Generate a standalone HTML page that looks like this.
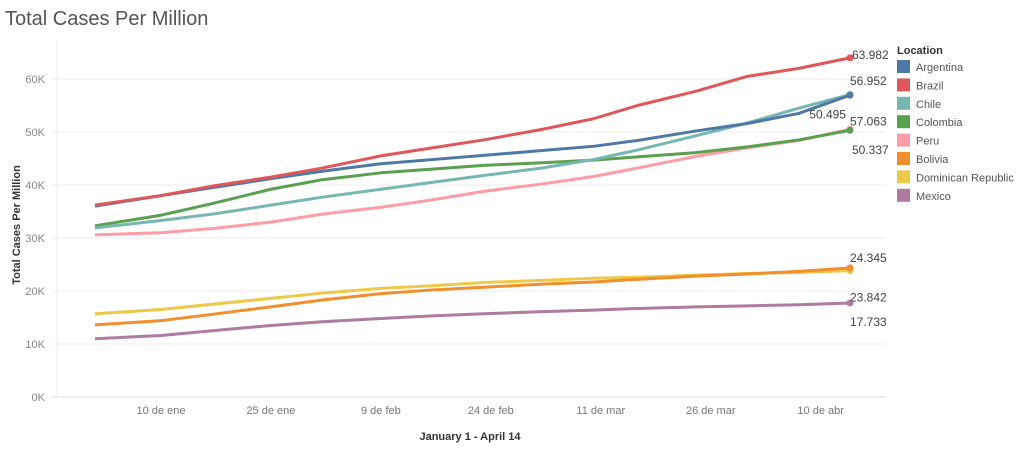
<!DOCTYPE html>
<html><head><meta charset="utf-8"><style>
body{margin:0;background:#fff;font-family:"Liberation Sans",sans-serif;}
svg text{font-family:"Liberation Sans",sans-serif;}
</style></head><body>
<svg id="chart" width="1024" height="450" xmlns="http://www.w3.org/2000/svg">
<text x="5" y="25" font-size="20" fill="#555">Total Cases Per Million</text>
<g id="grid"></g><g id="lines"></g><g id="labels"></g><g id="legend"></g>
<text transform="translate(20,225) rotate(-90)" text-anchor="middle" font-size="11" font-weight="bold" fill="#333">Total Cases Per Million</text>
<text x="470" y="440" text-anchor="middle" font-size="11" font-weight="bold" fill="#333">January 1 - April 14</text>
</svg>
<script>
const days=[0,9,16,24,31,39,46,53,61,68,74,82,89,96,103];
const seriesNames=["Argentina","Brazil","Chile","Colombia","Peru","Bolivia","Dominican Republic","Mexico"];
const colors=["#4e79a7","#e15759","#76b7b2","#59a14f","#ff9da7","#f28e2b","#edc948","#b07aa1"];
const argentina=[36,38,39.5,41.2,42.6,44,44.8,45.6,46.5,47.3,48.4,50.2,51.6,53.5,56.952];
const brazil=[36.2,38,39.8,41.5,43.2,45.5,47,48.5,50.5,52.5,55,57.7,60.5,62,63.982];
const chile=[31.9,33.3,34.5,36.2,37.7,39.2,40.5,41.8,43.2,44.8,46.6,49.3,51.7,54.5,57.063];
const colombia=[32.3,34.3,36.5,39.2,41,42.3,43,43.7,44.2,44.7,45.3,46.1,47.2,48.5,50.337];
const peru=[30.6,31,31.8,33,34.5,35.8,37.2,38.8,40.2,41.6,43.2,45.4,47,48.4,50.495];
const bolivia=[13.6,14.4,15.6,17,18.3,19.5,20.2,20.7,21.3,21.7,22.2,22.8,23.2,23.7,24.345];
const domrep=[15.7,16.5,17.5,18.6,19.6,20.5,21,21.6,22,22.4,22.6,23,23.3,23.5,23.842];
const mexico=[11,11.6,12.5,13.5,14.2,14.8,15.3,15.7,16.1,16.4,16.7,17,17.2,17.4,17.733];
const yTicks=[0,10,20,30,40,50,60];
const xTickDays=[9,24,39,54,69,84,99];
const xTickLabels=["10 de ene","25 de ene","9 de feb","24 de feb","11 de mar","26 de mar","10 de abr"];
const endLabels=["56.952","63.982","57.063","50.337","50.495","24.345","23.842","17.733"];
const labelDy=[-14,-3,27,20,-15,-10,27,19];
const labelDx=[0,2,0,2,-4,0,0,0];
const labelAnchor=["start","start","start","start","end","start","start","start"];
const allSeries=[argentina,brazil,chile,colombia,peru,bolivia,domrep,mexico];
const NS="http://www.w3.org/2000/svg";
const X=d=>95+d*7.33, Y=v=>397-v*5.3;
function mk(t,a,p){const e=document.createElementNS(NS,t);for(const k in a)e.setAttribute(k,a[k]);p.appendChild(e);return e;}
const grid=document.getElementById('grid');
mk('line',{x1:57,x2:57,y1:40,y2:397,stroke:'#eee'},grid);
yTicks.forEach(v=>{
 const l=mk('line',{x1:52,x2:886,y1:Y(v),y2:Y(v),stroke:v==0?'#ddd':'#eee'},grid);
 
 
 const t=mk('text',{x:45,y:Y(v)+4,'text-anchor':'end','font-size':11,fill:'#888'},grid);
 t.textContent=v+'K';
 
 
});
xTickDays.forEach((d,i)=>{
 const t=mk('text',{x:X(d),y:414,'text-anchor':'middle','font-size':11,fill:'#777'},grid);
 t.textContent=xTickLabels[i];
 
 
});
const lines=document.getElementById('lines'),labels=document.getElementById('labels'),legend=document.getElementById('legend');
[7,6,5,4,3,2,0,1].forEach(i=>{
 const s=allSeries[i];
 const p=mk('polyline',{points:s.map((v,j)=>X(days[j])+','+Y(v)).join(' '),fill:'none',stroke:colors[i],'stroke-width':3,'stroke-linejoin':'round'},lines);
 
 
 const last=s[s.length-1],lx=X(days[days.length-1]),ly=Y(last);
 const c=mk('circle',{cx:lx,cy:ly,r:3.5,fill:colors[i]},lines);
 
 
 const t=mk('text',{x:lx+labelDx[i],y:ly+labelDy[i]+4,'text-anchor':labelAnchor[i],'font-size':12,fill:'#444'},labels);
 t.textContent=endLabels[i];
 
 
});
const lt=mk('text',{x:897,y:54,'font-size':11,'font-weight':'bold',fill:'#333'},legend);
lt.textContent='Location';


seriesNames.forEach((n,i)=>{
 const y=60+i*18.4;
 const r=mk('rect',{x:897,y:y,width:13,height:13,fill:colors[i]},legend);
 
 
 const t=mk('text',{x:916,y:y+11,'font-size':11,fill:'#555'},legend);
 t.textContent=n;
 
 
});
</script>
</body></html>
